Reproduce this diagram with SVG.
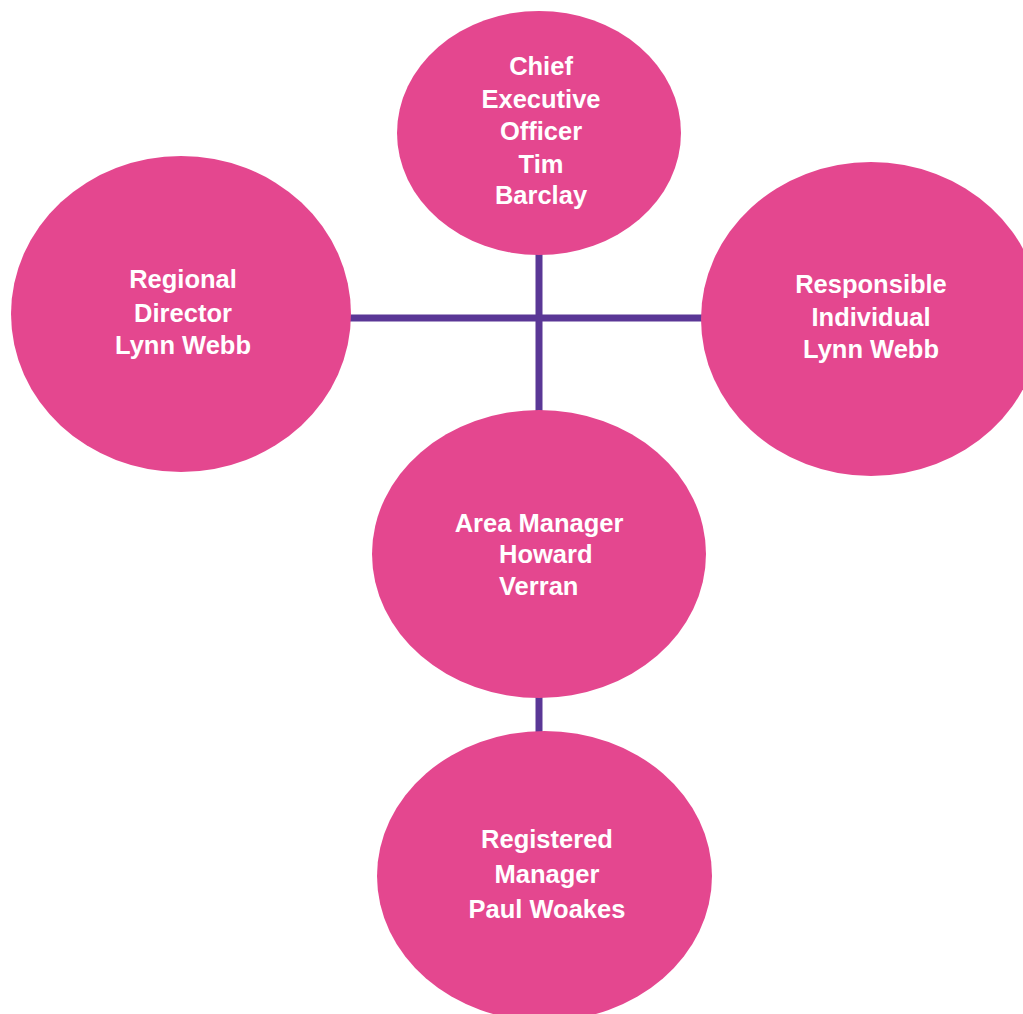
<svg xmlns="http://www.w3.org/2000/svg" width="1023" height="1014" viewBox="0 0 1023 1014">
<style>
.node{fill:#E4478F;}
.lbl{fill:#ffffff;font-family:"Liberation Sans",Arial,sans-serif;font-weight:bold;font-size:25.5px;text-anchor:middle;}
.lbl .s{text-anchor:start;}
.conn{stroke:#5A3796;stroke-width:7;fill:none;}
</style>
<rect width="1023" height="1014" fill="#ffffff"/>
<g id="connectors">
<line class="conn" x1="539" y1="250" x2="539" y2="415"/>
<line class="conn" x1="345" y1="318" x2="708" y2="318"/>
<line class="conn" x1="539" y1="692" x2="539" y2="737"/>
</g>
<g id="ceo">
<ellipse class="node" cx="539" cy="133" rx="142" ry="122"/>
<text class="lbl"><tspan x="541" y="75">Chief</tspan><tspan x="541" y="108">Executive</tspan><tspan x="541" y="140">Officer</tspan><tspan x="541" y="173">Tim</tspan><tspan x="541" y="204">Barclay</tspan></text>
</g>
<g id="regional">
<ellipse class="node" cx="181" cy="314" rx="170" ry="158"/>
<text class="lbl"><tspan x="183" y="288">Regional</tspan><tspan x="183" y="322">Director</tspan><tspan x="183" y="354">Lynn Webb</tspan></text>
</g>
<g id="responsible">
<ellipse class="node" cx="871" cy="319" rx="170" ry="157"/>
<text class="lbl"><tspan x="871" y="293">Responsible</tspan><tspan x="871" y="326">Individual</tspan><tspan x="871" y="358">Lynn Webb</tspan></text>
</g>
<g id="area">
<ellipse class="node" cx="539" cy="554" rx="167" ry="144"/>
<text class="lbl"><tspan x="539" y="532">Area Manager</tspan><tspan x="499" y="563" style="text-anchor:start">Howard</tspan><tspan x="499" y="595" style="text-anchor:start">Verran</tspan></text>
</g>
<g id="registered">
<ellipse class="node" cx="544.5" cy="876" rx="167.5" ry="145"/>
<text class="lbl"><tspan x="547" y="848">Registered</tspan><tspan x="547" y="883">Manager</tspan><tspan x="547" y="918">Paul Woakes</tspan></text>
</g>
</svg>
